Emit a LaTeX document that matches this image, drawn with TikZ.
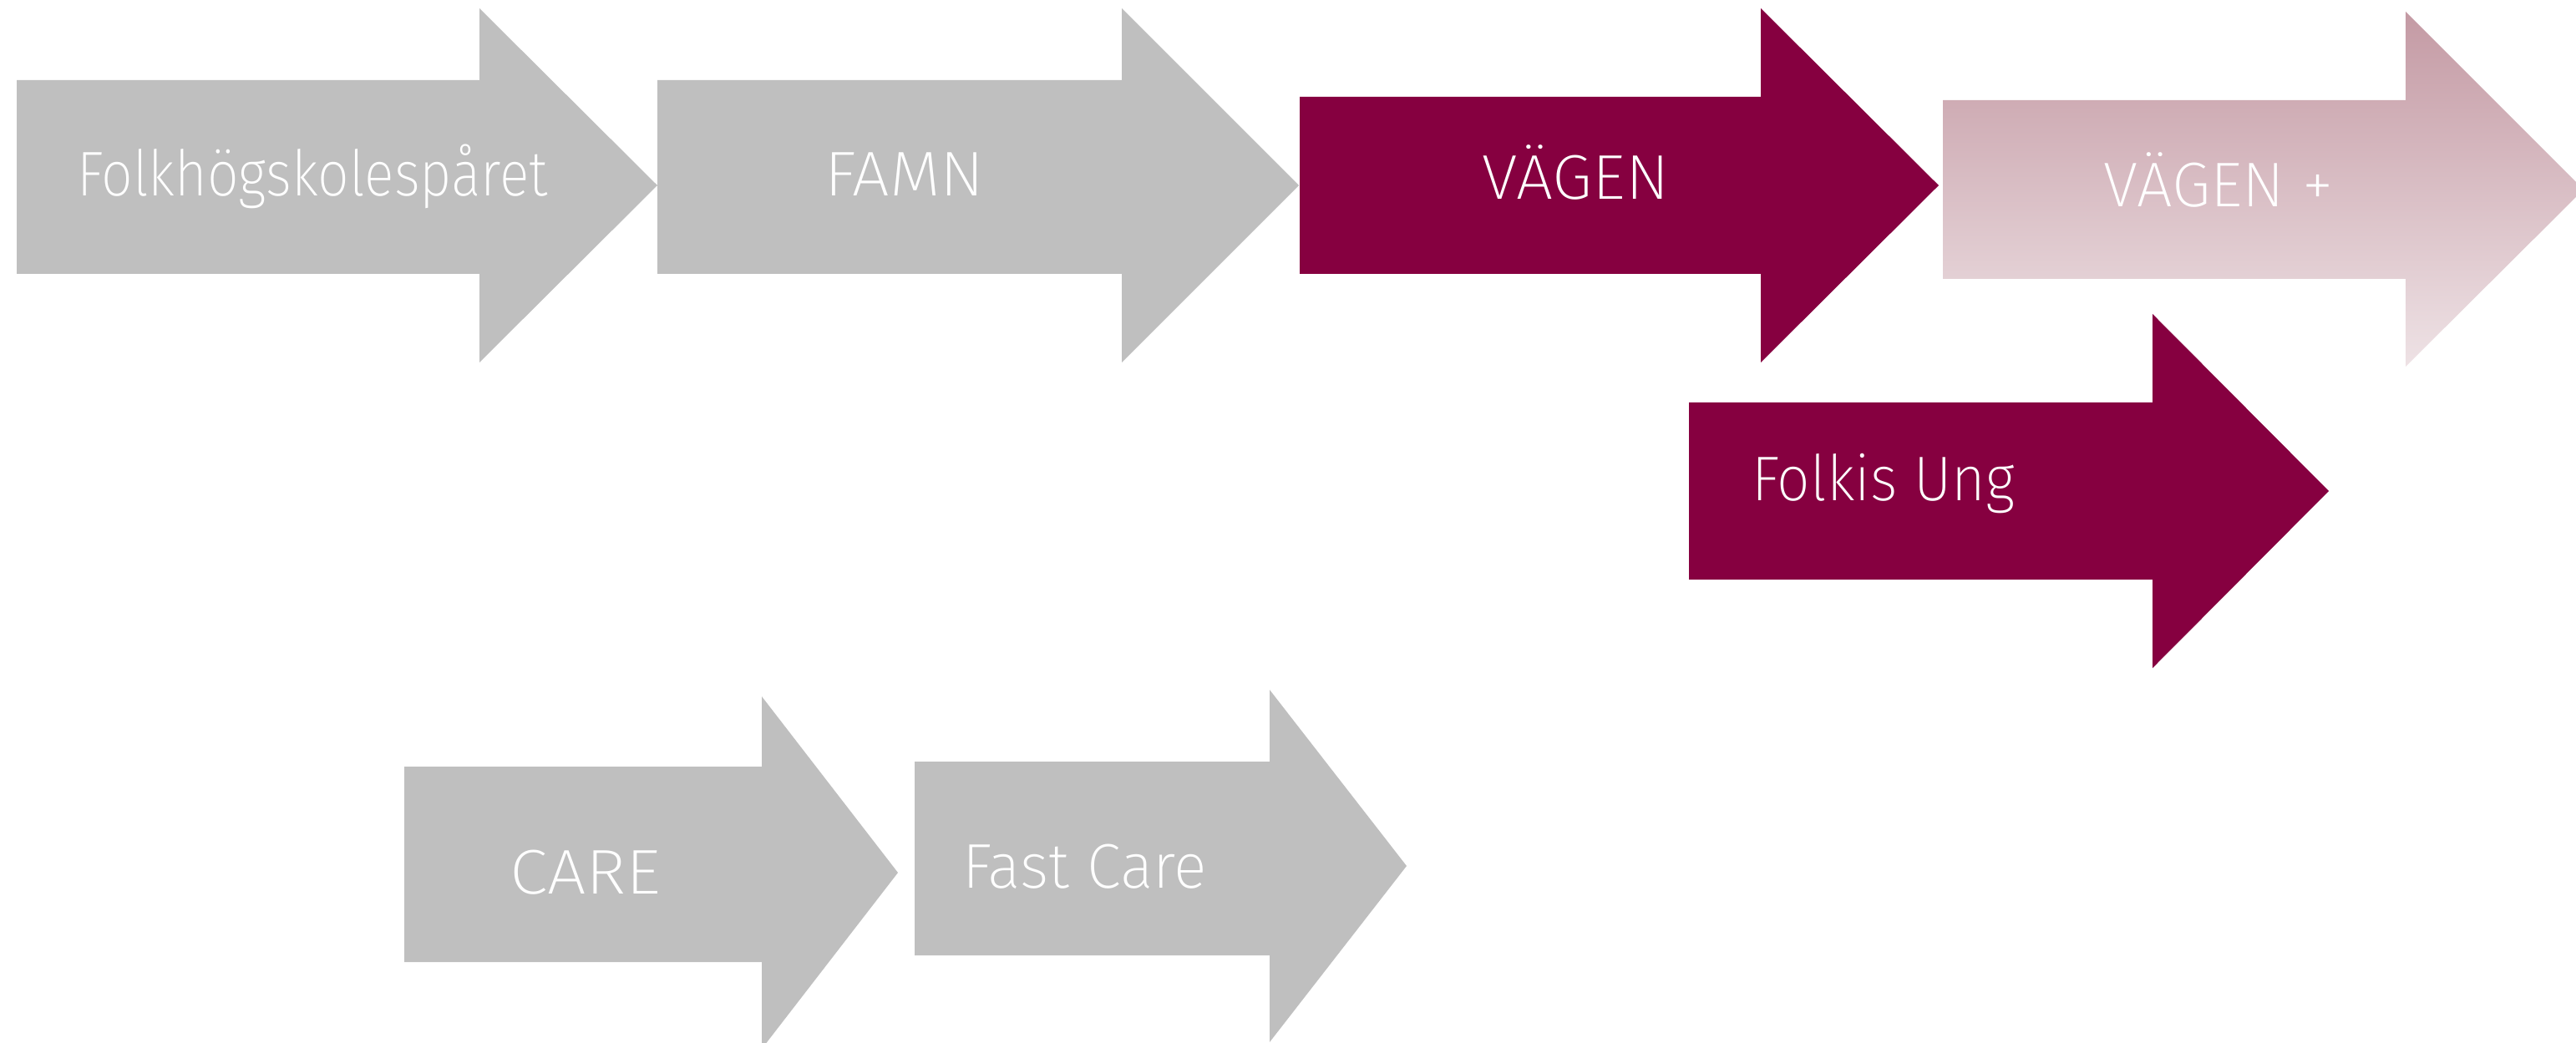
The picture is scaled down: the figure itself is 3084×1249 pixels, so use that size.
\documentclass[tikz,border=0pt]{standalone}
\usepackage{fontspec}
\setmainfont{Fira Sans ExtraLight}
\usetikzlibrary{shadings}
\definecolor{greyarrow}{RGB}{191,191,191}
\definecolor{wine}{RGB}{134,0,64}
\definecolor{gradtop}{RGB}{196,154,164}
\definecolor{gradbot}{RGB}{238,226,229}
\tikzset{
  greyfill/.style={fill=greyarrow},
  winefill/.style={fill=wine},
  lbl/.style={anchor=base west, inner sep=0pt, outer sep=0pt, text=white, font=\fontsize{21.5}{26}\selectfont},
}
\newcommand\sx[2]{\scalebox{#1}[1]{#2}}
\begin{document}
\begin{tikzpicture}[x=0.01cm,y=-0.01cm]
\useasboundingbox (0,0) rectangle (3084,1249);
\clip (0,0) rectangle (3084,1249);
% row 1
\fill[greyfill] (20,96) -- (574,96) -- (574,10) -- (787,222) -- (574,434) -- (574,328) -- (20,328) -- cycle;
\fill[greyfill] (787,96) -- (1343,96) -- (1343,10) -- (1555,222) -- (1343,434) -- (1343,328) -- (787,328) -- cycle;
\fill[winefill] (1556,116) -- (2108,116) -- (2108,10) -- (2321,222) -- (2108,434) -- (2108,328) -- (1556,328) -- cycle;
\shade[top color=gradtop, bottom color=gradbot] (2326,120) -- (2880,120) -- (2880,14) -- (3093,227) -- (2880,439) -- (2880,334) -- (2326,334) -- cycle;
% Folkis Ung
\fill[winefill] (2022,482) -- (2577,482) -- (2577,376) -- (2788,588) -- (2577,800) -- (2577,694) -- (2022,694) -- cycle;
% bottom row
\fill[greyfill] (484,918) -- (912,918) -- (912,834) -- (1075,1045) -- (912,1256) -- (912,1152) -- (484,1152) -- cycle;
\fill[greyfill] (1095,912) -- (1520,912) -- (1520,826) -- (1684,1037) -- (1520,1248) -- (1520,1144) -- (1095,1144) -- cycle;
% labels
\node[lbl] (folk) at (92,235) {\sx{0.878}{Folkhögskolespåret}};
\node[lbl] (famn) at (987,235) {\sx{1.045}{FAMN}};
\node[lbl] (vagen) at (1774,239) {\sx{1.033}{VÄGEN}};
\node[lbl] (vagenplus) at (2518,248) {\sx{1.0}{VÄGEN +}};
\node[lbl] (folkis) at (2097,600) {\sx{0.923}{Folkis Ung}};
\node[lbl] (care) at (610,1070) {\sx{1.09}{CARE}};
\node[lbl] (fastcare) at (1152,1063) {\sx{0.977}{Fast Care}};
\end{tikzpicture}
\end{document}
